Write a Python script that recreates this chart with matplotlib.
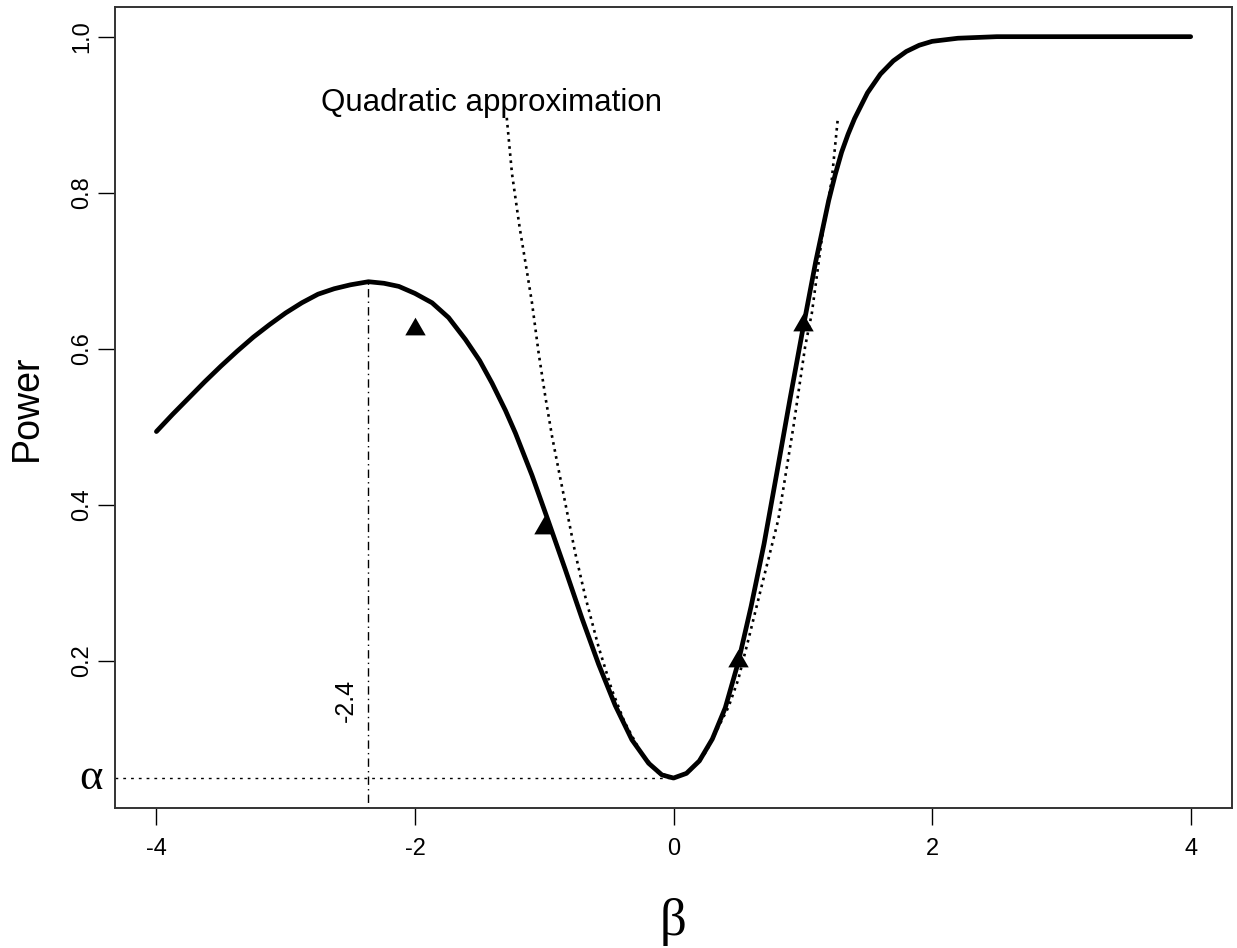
import matplotlib
matplotlib.use("Agg")
import matplotlib.pyplot as plt

# ---- data ----
beta_curve = [-4.0, -3.875, -3.75, -3.625, -3.5, -3.375, -3.25, -3.125, -3.0, -2.875,
              -2.75, -2.625, -2.5, -2.36, -2.24, -2.125, -2.0, -1.868, -1.74, -1.61,
              -1.5, -1.404, -1.3, -1.223, -1.095, -0.966, -0.837, -0.709, -0.58, -0.451,
              -0.322, -0.193, -0.09, 0.0, 0.1, 0.2, 0.3, 0.4, 0.5, 0.6,
              0.7, 0.8, 0.9, 1.0, 1.1, 1.2, 1.25, 1.3, 1.35, 1.4,
              1.5, 1.6, 1.7, 1.8, 1.9, 2.0, 2.2, 2.5, 3.0, 3.5, 4.0]
power_curve = [0.494, 0.516, 0.537, 0.558, 0.578, 0.597, 0.615, 0.631, 0.646, 0.659,
               0.670, 0.677, 0.682, 0.686, 0.684, 0.680, 0.671, 0.659, 0.640, 0.612,
               0.585, 0.556, 0.521, 0.492, 0.438, 0.378, 0.317, 0.255, 0.196, 0.143,
               0.099, 0.069, 0.054, 0.050, 0.056, 0.072, 0.100, 0.140, 0.198, 0.270,
               0.350, 0.442, 0.535, 0.625, 0.712, 0.790, 0.823, 0.852, 0.875, 0.895,
               0.928, 0.952, 0.969, 0.981, 0.989, 0.994, 0.998, 1.0, 1.0, 1.0, 1.0]

beta_quad = [-1.29, -1.25, -1.19, -1.134, -1.095, -1.043, -0.992, -0.94, -0.889, -0.837,
             -0.76, -0.682, -0.58, -0.477, -0.38, -0.25, -0.12, 0.0, 0.12, 0.25,
             0.322, 0.425, 0.50, 0.58, 0.68, 0.81, 0.927, 1.018, 1.07, 1.146,
             1.224, 1.27]
power_quad = [0.896, 0.825, 0.755, 0.699, 0.659, 0.594, 0.539, 0.488, 0.445, 0.402,
              0.338, 0.282, 0.218, 0.163, 0.122, 0.082, 0.057, 0.050, 0.058, 0.083,
              0.107, 0.141, 0.176, 0.228, 0.295, 0.381, 0.500, 0.603, 0.646, 0.740,
              0.817, 0.894]

beta_pts = [-2.0, -1.0, 0.5, 1.0]
power_pts = [0.625, 0.370, 0.200, 0.631]

alpha_level = 0.05
peak_beta = -2.36
peak_power = 0.686
peak_label = "-2.4"
quad_label = "Quadratic approximation"
quad_label_pos = (-1.41, 0.915)
label_pos_y = 0.150

xticks = [-4, -2, 0, 2, 4]
yticks = [0.2, 0.4, 0.6, 0.8, 1.0]
ytick_labels = ["0.2", "0.4", "0.6", "0.8", "1.0"]

# ---- figure ----
plt.rcParams['font.family'] = ['Liberation Sans', 'DejaVu Sans']
fig = plt.figure(figsize=(12.37, 9.48), dpi=100)
ax = fig.add_axes([0.093, 0.148, 0.903, 0.8446])

xlim = (-4.32, 4.32)
ylim = (0.012, 1.038)
ax.set_xlim(*xlim)
ax.set_ylim(*ylim)

tri = [(-1.0, -0.577), (1.0, -0.577), (0.0, 1.155)]

ax.plot(beta_curve, power_curve, color='black', lw=3.4, solid_capstyle='round',
        solid_joinstyle='round', zorder=3)
ax.plot(beta_quad, power_quad, color='black', lw=1.9, linestyle=(0, (1.0, 1.7)), zorder=2)
ax.plot(beta_pts, power_pts, linestyle='none', marker=tri, color='black',
        markersize=17, markeredgewidth=0, zorder=4)

# alpha reference line
ax.plot([xlim[0], 0.0], [alpha_level, alpha_level], color='black', lw=1.0,
        linestyle=(0, (2, 3.6)), zorder=1)
# peak vertical line
ax.plot([peak_beta, peak_beta], [ylim[0], peak_power], color='black', lw=1.0,
        linestyle=(0, (1, 3, 6, 3)), zorder=1)

ax.annotate(peak_label, xy=(peak_beta, label_pos_y), xytext=(-16.5, 0),
            textcoords='offset points', rotation=90, ha='center', va='center',
            fontsize=18)
ax.text(quad_label_pos[0], quad_label_pos[1], quad_label, ha='center', va='center',
        fontsize=22.5)

# axes styling
for s in ax.spines.values():
    s.set_color('#333333')
    s.set_linewidth(1.4)
ax.set_xticks(xticks)
ax.set_xticklabels([str(t) for t in xticks])
ax.set_yticks(yticks)
ax.set_yticklabels(ytick_labels, rotation=90, va='center')
ax.tick_params(axis='x', length=12, width=1.0, pad=10, labelsize=17)
ax.tick_params(axis='y', length=12, width=1.0, pad=4, labelsize=17)

# alpha label on y axis
ax.annotate("α", xy=(xlim[0], alpha_level), xytext=(-17, 0), textcoords='offset points',
            ha='center', va='center', fontsize=32, family=['Liberation Serif', 'DejaVu Serif'],
            annotation_clip=False)

ax.set_ylabel("Power", fontsize=27, labelpad=19)
ax.set_xlabel("β", fontsize=38, labelpad=27, family=['Liberation Serif', 'DejaVu Serif'])

fig.savefig("out.png", dpi=100)
